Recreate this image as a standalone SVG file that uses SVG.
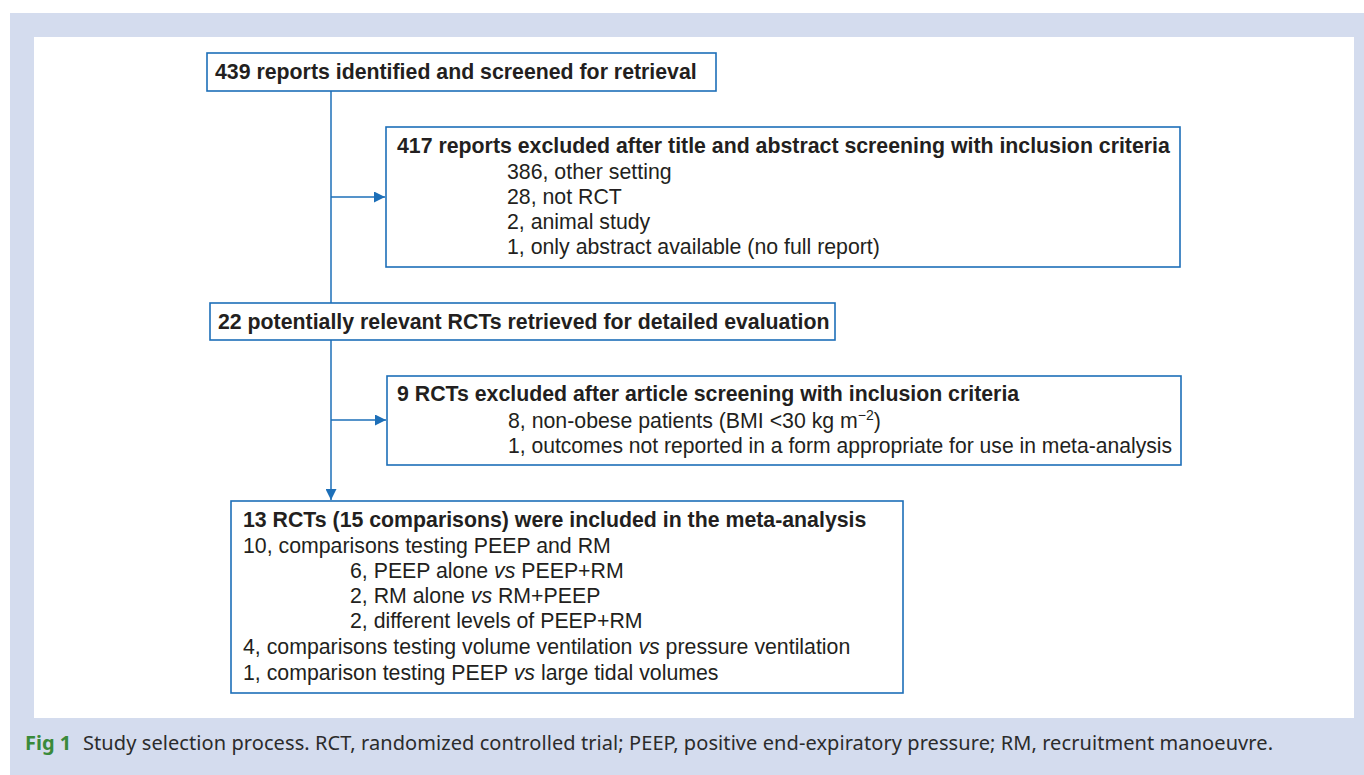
<svg xmlns="http://www.w3.org/2000/svg" width="1364" height="775" viewBox="0 0 1364 775">
<style>
.box{fill:#fff;stroke:#1d6fb8;stroke-width:1.6}
.conn{stroke:#1d6fb8;stroke-width:1.5;fill:none}
.t{font-family:"Liberation Sans",Arial,sans-serif;font-size:21.3px;fill:#231f20}
.b{font-weight:bold}
.cap{font-family:"Noto Sans","Open Sans",sans-serif;font-size:20px;fill:#2b2b2b}
</style>
<defs>
<marker id="ah" viewBox="0 0 10 10" refX="10" refY="5" markerWidth="11" markerHeight="11" markerUnits="userSpaceOnUse" orient="auto">
<path d="M0,0 L10,5 L0,10 z" fill="#1d6fb8"/>
</marker>
</defs>
<rect x="10" y="13" width="1354" height="762" fill="#d4dcee"/>
<rect x="34" y="37" width="1320" height="681" fill="#fff"/>
<g id="connectors">
<line class="conn" x1="331" y1="91" x2="331" y2="303"/>
<line class="conn" x1="331" y1="197" x2="385" y2="197" marker-end="url(#ah)"/>
<line class="conn" x1="331" y1="340" x2="331" y2="500" marker-end="url(#ah)"/>
<line class="conn" x1="331" y1="420" x2="386" y2="420" marker-end="url(#ah)"/>
</g>
<g id="n1">
<rect class="box" x="207" y="53" width="509" height="38"/>
<text class="t b" x="215" y="79">439 reports identified and screened for retrieval</text>
</g>
<g id="n2">
<rect class="box" x="386" y="127" width="794" height="140"/>
<text class="t b" x="397" y="153">417 reports excluded after title and abstract screening with inclusion criteria</text>
<text class="t" x="507" y="179">386, other setting</text>
<text class="t" x="507" y="204">28, not RCT</text>
<text class="t" x="507" y="229">2, animal study</text>
<text class="t" x="507" y="254">1, only abstract available (no full report)</text>
</g>
<g id="n3">
<rect class="box" x="210" y="303" width="625" height="37"/>
<text class="t b" x="218" y="329">22 potentially relevant RCTs retrieved for detailed evaluation</text>
</g>
<g id="n4">
<rect class="box" x="387" y="376" width="794" height="89"/>
<text class="t b" x="397" y="401">9 RCTs excluded after article screening with inclusion criteria</text>
<text class="t" x="508" y="428">8, non-obese patients (BMI &lt;30 kg m<tspan dy="-8" font-size="14">−2</tspan><tspan dy="8">)</tspan></text>
<text class="t" x="508" y="453" textLength="664" lengthAdjust="spacingAndGlyphs">1, outcomes not reported in a form appropriate for use in meta-analysis</text>
</g>
<g id="n5">
<rect class="box" x="231" y="501" width="672" height="192"/>
<text class="t b" x="243" y="527">13 RCTs (15 comparisons) were included in the meta-analysis</text>
<text class="t" x="243" y="553">10, comparisons testing PEEP and RM</text>
<text class="t" x="350" y="578">6, PEEP alone <tspan font-style="italic">vs</tspan> PEEP+RM</text>
<text class="t" x="350" y="603">2, RM alone <tspan font-style="italic">vs</tspan> RM+PEEP</text>
<text class="t" x="350" y="628">2, different levels of PEEP+RM</text>
<text class="t" x="243" y="654">4, comparisons testing volume ventilation <tspan font-style="italic">vs</tspan> pressure ventilation</text>
<text class="t" x="243" y="680">1, comparison testing PEEP <tspan font-style="italic">vs</tspan> large tidal volumes</text>
</g>
<text class="cap" x="25" y="750"><tspan font-weight="bold" fill="#3a8a3a">Fig 1</tspan><tspan x="83" textLength="1190" lengthAdjust="spacing">Study selection process. RCT, randomized controlled trial; PEEP, positive end-expiratory pressure; RM, recruitment manoeuvre.</tspan></text>
</svg>
